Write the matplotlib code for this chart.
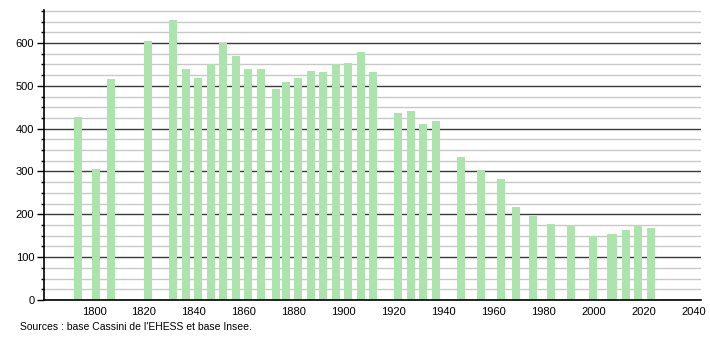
import matplotlib
matplotlib.use("Agg")
import matplotlib.pyplot as plt
from matplotlib.ticker import MultipleLocator

# census years and population
years = [1793, 1800, 1806, 1821, 1831, 1836, 1841, 1846, 1851, 1856,
         1861, 1866, 1872, 1876, 1881, 1886, 1891, 1896, 1901, 1906,
         1911, 1921, 1926, 1931, 1936, 1946, 1954, 1962, 1968, 1975,
         1982, 1990, 1999, 2006, 2007, 2012, 2017, 2022]
population = [427, 306, 516, 605, 654, 539, 518, 551, 600, 570,
              539, 539, 493, 509, 518, 535, 532, 551, 553, 578,
              532, 436, 441, 411, 418, 334, 303, 282, 217, 196,
              177, 174, 149, 154, 154, 163, 174, 168]

x_ticks = [1800, 1820, 1840, 1860, 1880, 1900, 1920, 1940, 1960, 1980, 2000, 2020, 2040]
source_text = "Sources : base Cassini de l'EHESS et base Insee."

plt.rcParams['font.family'] = ['Liberation Sans', 'DejaVu Sans']

fig = plt.figure(figsize=(7.1, 3.4), dpi=100)
ax = fig.add_axes([0.062, 0.1176, 0.925, 0.853])

# bars start a little before the census year, as in the source chart
bar_w = 3.2
ax.bar(years, population, width=bar_w, align='edge', color='#ade3ad', zorder=3,
       transform=ax.transData)
for p in ax.patches:
    p.set_x(p.get_x() - bar_w / 2 + 0.7)

ax.set_xlim(1780, 2042.8)
ax.set_ylim(0, 677)

ax.yaxis.set_major_locator(MultipleLocator(100))
ax.yaxis.set_minor_locator(MultipleLocator(25))
ax.grid(which='major', axis='y', color='#3a3a3a', linewidth=1.0, zorder=1)
ax.grid(which='minor', axis='y', color='#c8c8c8', linewidth=1.0, zorder=1)

ax.set_xticks(x_ticks)
ax.tick_params(axis='x', length=0, labelsize=8, pad=5)
ax.tick_params(axis='y', which='major', length=5, width=1, labelsize=8, pad=2)
ax.tick_params(axis='y', which='minor', length=2.5, width=1)

for side in ['top', 'right']:
    ax.spines[side].set_visible(False)
ax.spines['left'].set_linewidth(1.2)
ax.spines['bottom'].set_linewidth(1.2)
ax.spines['left'].set_zorder(4)
ax.spines['bottom'].set_zorder(4)

fig.text(20 / 710, 1 - 327 / 340, source_text, fontsize=7.5, va='center', ha='left')

fig.savefig("out.png", dpi=100)
